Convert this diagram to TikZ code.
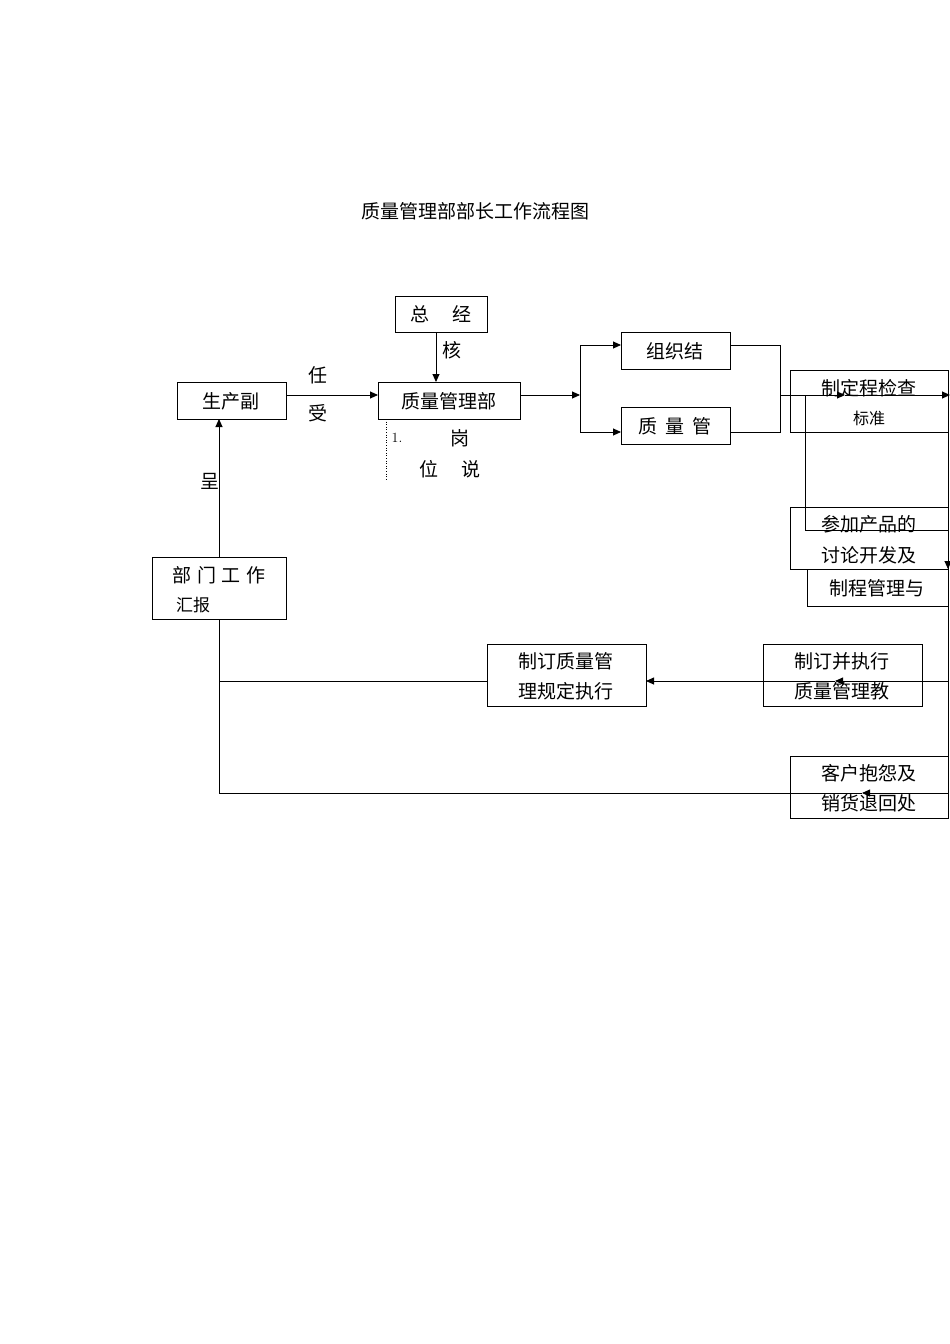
\documentclass[tikz,border=0pt]{standalone}
\usepackage{fontspec}
\newfontfamily\cjk{Noto Sans CJK SC}
\usetikzlibrary{arrows.meta}
\begin{document}
\begin{tikzpicture}[x=1pt,y=-1pt,line width=0.9pt,
  every node/.style={font=\cjk\fontsize{19}{22}\selectfont,inner sep=0pt},
  arr/.style={-{Triangle[length=8pt,width=7pt]}},
  mid/.style={postaction={decorate}}]
\useasboundingbox (0,0) rectangle (950,1344);
\node (title) at (475,211) {质量管理部部长工作流程图};
% boxes
\draw (395,296) rectangle (487,332); \node (zj) at (441,314) {总\hspace{1.2em}经};
\draw (177,382) rectangle (286,419); \node (sc) at (231,401) {生产副};
\draw (378,382) rectangle (520,419); \node (zl) at (449,401) {质量管理部};
\draw (621,332) rectangle (730,369); \node (zz) at (675,351) {组织结};
\draw (621,407) rectangle (730,444); \node (zg) at (675,426) {质\hspace{0.4em}量\hspace{0.4em}管};
\draw (790,370) rectangle (948,432); \node (zd) at (869,388) {制定程检查}; \node[font=\cjk\fontsize{16}{18}\selectfont] at (869,418) {标准};
\draw (790,507) rectangle (948,569); \node (cj) at (869,524) {参加产品的}; \node at (869,555) {讨论开发及};
\draw (807,569) rectangle (948,606); \node (zc) at (877,588) {制程管理与};
\draw (763,644) rectangle (922,706); \node (zb) at (842,661) {制订并执行}; \node at (842,691) {质量管理教};
\draw (487,644) rectangle (646,706); \node (zq) at (566,661) {制订质量管}; \node at (566,691) {理规定执行};
\draw (790,756) rectangle (948,818); \node (kh) at (869,773) {客户抱怨及}; \node at (869,803) {销货退回处};
\draw (152,557) rectangle (286,619); \node (bm) at (219,575) {部\hspace{0.3em}门\hspace{0.3em}工\hspace{0.3em}作}; \node[font=\cjk\fontsize{17}{19}\selectfont] at (193,605) {汇报};
% connectors
\draw[arr] (436,332) -- (436,382);
\node at (452,350) {核};
\draw[arr] (286,395) -- (378,395);
\node at (318,375) {任}; \node at (318,413) {受};
\draw[dotted,line width=0.6pt] (386,419) -- (386,480);
\node[font=\fontsize{14}{16}\selectfont] at (397,438) {1.};
\node at (460,438) {岗}; \node at (450,469) {位\hspace{1.2em}说};
\draw[arr] (520,395) -- (580,395);
\draw (580,395) -- (580,345); \draw (580,395) -- (580,432);
\draw[arr] (580,345) -- (621,345);
\draw[arr] (580,432) -- (621,432);
\draw (730,345) -- (780,345) -- (780,432) -- (730,432);
\draw[arr] (780,395) -- (845,395);
\draw[arr] (845,395) -- (950,395);
\draw (805,395) -- (805,530) -- (948,530);
\draw[arr] (948,530) -- (948,569);
\draw (948,395) -- (948,793);
\draw[arr] (948,681) -- (835,681);
\draw[arr] (835,681) -- (646,681);
\draw (487,681) -- (219,681);
\draw[arr] (948,793) -- (862,793);
\draw (862,793) -- (219,793) -- (219,619);
\draw[arr] (219,557) -- (219,419);
\node at (210,481) {呈};
\end{tikzpicture}
\end{document}
